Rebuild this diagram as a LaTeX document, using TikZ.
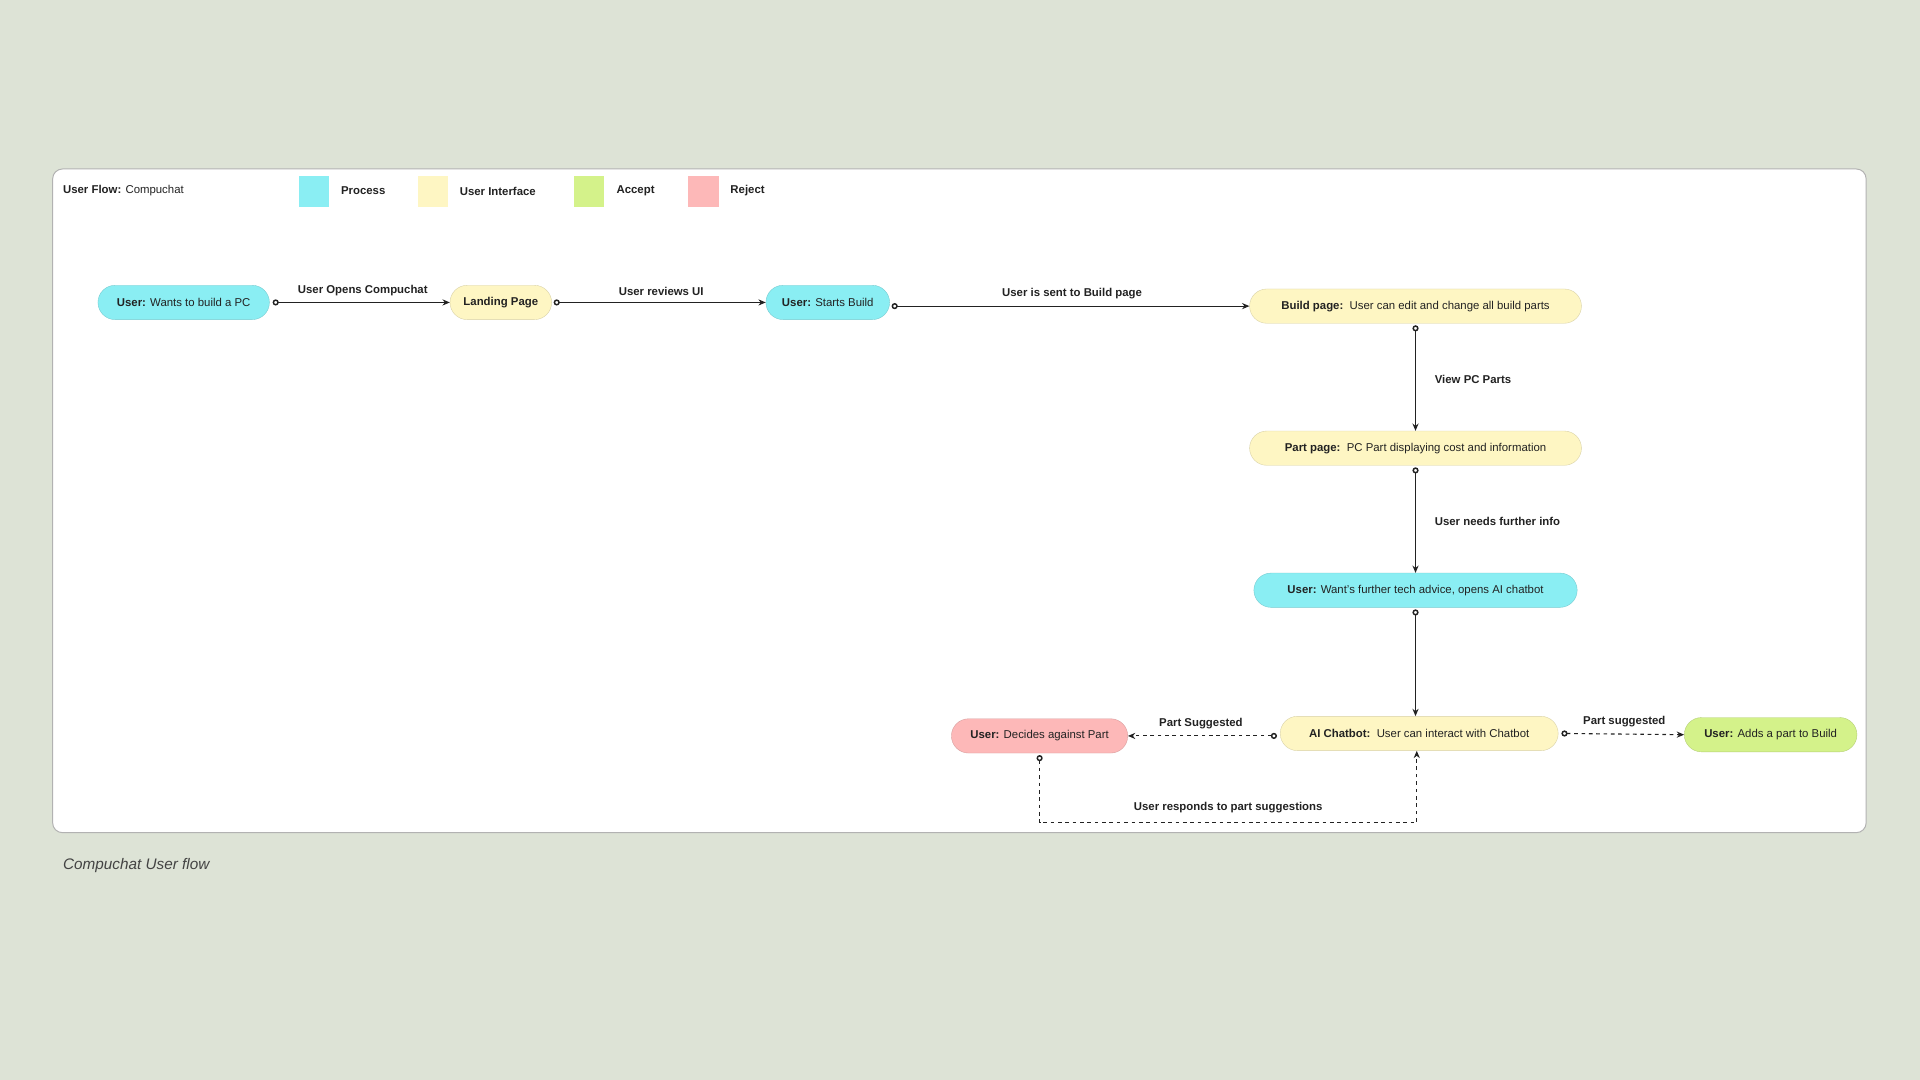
\documentclass[tikz,border=0pt]{standalone}
\usepackage{fontspec}
\setmainfont{Liberation Sans}
\usetikzlibrary{arrows.meta}
\definecolor{bg}{HTML}{DDE3D6}
\definecolor{proc}{HTML}{8AEEF3}
\definecolor{ui}{HTML}{FEF6C3}
\definecolor{acc}{HTML}{D4F28A}
\definecolor{rej}{HTML}{FDB8B8}
\definecolor{ink}{HTML}{222222}
\begin{document}
\begin{tikzpicture}[x=1pt,y=-1pt,
  font=\fontsize{9.3}{11}\selectfont,
  box/.style={rounded corners=14pt,minimum height=28pt,inner xsep=8pt,text=ink,draw=#1!85!black,line width=0.3pt,fill=#1},
  lbl/.style={font=\fontsize{9.3}{11}\selectfont\bfseries,text=ink},
  con/.style={{Circle[open,length=5pt,width=5pt,fill=white,line width=1.2pt]}-{Stealth[length=6pt,width=5pt]},line width=0.9pt,draw=ink,shorten <=-2.5pt},
  dcon/.style={con,dashed},
  leg/.style={minimum size=25pt,inner sep=0pt}]
\fill[bg] (0,0) rectangle (1568,882);
\useasboundingbox (0,0) rectangle (1568,882);
\draw[gray!60,fill=white,rounded corners=8pt,line width=0.8pt] (43,138) rectangle (1524,680);
\node[anchor=west,text=ink] (title) at (48,156) {\textbf{User Flow:} Compuchat};
\node[leg,fill=proc] (lp1) at (256.5,156.5) {};
\node[lbl,anchor=west] (lt1) at (275,156) {Process};
\node[leg,fill=ui] (lp2) at (353.5,156.5) {};
\node[lbl,anchor=west] (lt2) at (372,156) {User Interface};
\node[leg,fill=acc] (lp3) at (481,156.5) {};
\node[lbl,anchor=west] (lt3) at (500,156) {Accept};
\node[leg,fill=rej] (lp4) at (574.5,156.5) {};
\node[lbl,anchor=west] (lt4) at (593,156) {Reject};

\node[box=proc,minimum width=140pt] (u1) at (150,247) {\textbf{User:} Wants to build a PC};
\node[box=ui,minimum width=83pt] (lp) at (409,247) {\textbf{Landing Page}};
\node[box=proc,minimum width=101pt] (sb) at (676,247) {\textbf{User:} Starts Build};
\node[box=ui,minimum width=271pt] (bp) at (1156,250) {\textbf{Build page:}\ \ User can edit and change all build parts};
\node[box=ui,minimum width=271pt] (pp) at (1156,366) {\textbf{Part page:}\ \ PC Part displaying cost and information};
\node[box=proc,minimum width=264pt] (uw) at (1156,482) {\textbf{User:} Want's further tech advice, opens AI chatbot};
\node[box=ui,minimum width=227pt] (ai) at (1159,599) {\textbf{AI Chatbot:}\ \ User can interact with Chatbot};
\node[box=rej,minimum width=144pt] (dp) at (849,601) {\textbf{User:} Decides against Part};
\node[box=acc,minimum width=141pt] (ad) at (1446,600) {\textbf{User:} Adds a part to Build};

\draw[con] ([xshift=5pt]u1.east) -- node[lbl,above=2pt]{User Opens Compuchat} (lp.west);
\draw[con] ([xshift=4pt]lp.east) -- node[lbl,above=2pt]{User reviews UI} (sb.west);
\draw[con] ([xshift=4pt]sb.east |- bp.west) -- node[lbl,above=2pt]{User is sent to Build page} (bp.west);
\draw[con] ([yshift=-4pt]bp.south) -- node[lbl,right=12pt]{View PC Parts} (pp.north);
\draw[con] ([yshift=-4pt]pp.south) -- node[lbl,right=12pt]{User needs further info} (uw.north);
\draw[con] ([yshift=-4pt]uw.south) -- (uw.south |- ai.north);
\draw[dcon] ([xshift=-5pt]ai.west |- dp.east) -- node[lbl,above=2pt]{Part Suggested} (dp.east);
\draw[dcon] ([xshift=5pt]ai.east) -- node[lbl,above=2pt]{Part suggested} (ad.west);
\coordinate (c1) at (849,672);
\coordinate (c2) at (1157,672);
\draw[dcon] ([yshift=-4pt]dp.south) -- (c1) -- node[lbl,above=4pt]{User responds to part suggestions} (c2) -- (c2 |- ai.south);
\node[anchor=west,text=ink!85,font=\fontsize{12.5}{14}\selectfont\itshape] (cap) at (48,707) {Compuchat User flow};
\end{tikzpicture}
\end{document}
